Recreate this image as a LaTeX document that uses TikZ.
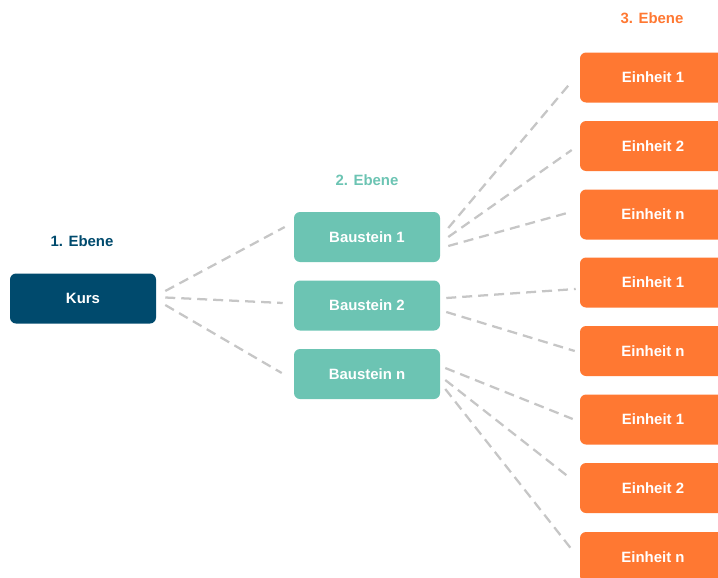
\documentclass[tikz,border=0pt]{standalone}
\usepackage{fontspec}
\setmainfont{Liberation Sans}
\usetikzlibrary{arrows,shapes}

\definecolor{kursblau}{HTML}{004A6D}
\definecolor{bausteingruen}{HTML}{6CC4B3}
\definecolor{einheitorange}{HTML}{FF7832}
\definecolor{linie}{HTML}{C6C6C6}

\begin{document}
\begin{tikzpicture}[x=0.75pt,y=-0.75pt,
                box/.style={rounded corners=4.5pt,minimum width=109.5pt,minimum height=37.5pt,
                    text=white,font=\fontsize{11.2}{13}\selectfont\bfseries,inner sep=0pt},
                kurs/.style={box,fill=kursblau},
                baustein/.style={box,fill=bausteingruen},
                einheit/.style={box,fill=einheitorange},
                ebene/.style={font=\fontsize{11.2}{13}\selectfont\bfseries},
                link/.style={draw=linie,line width=1.7pt,dash pattern=on 7.5pt off 4.5pt}]
                \useasboundingbox (0,0) rectangle (718,578);
                % Ueberschriften
                \node[ebene,text=kursblau](L1)at(82, 241){1. Ebene};
                \node[ebene,text=bausteingruen](L2)at(367, 180){2. Ebene};
                \node[ebene,text=einheitorange](L3)at(652, 18){3. Ebene};
                % 1. Ebene
                \node[kurs](K)at(83, 298.5){Kurs};
                % 2. Ebene
                \node[baustein](B1)at(367, 237){Baustein 1};
                \node[baustein](B2)at(367, 305.5){Baustein 2};
                \node[baustein](Bn)at(367, 374){Baustein n};
                % 3. Ebene
                \node[einheit](E1)at(653, 77.5){Einheit 1};
                \node[einheit](E2)at(653, 146){Einheit 2};
                \node[einheit](E3)at(653, 214.5){Einheit n};
                \node[einheit](E4)at(653, 282.5){Einheit 1};
                \node[einheit](E5)at(653, 351){Einheit n};
                \node[einheit](E6)at(653, 419.5){Einheit 1};
                \node[einheit](E7)at(653, 488){Einheit 2};
                \node[einheit](E8)at(653, 557){Einheit n};
                \path[link]([shift={(9,-7.5)}]K.east) edge ([shift={(-9,-10)}]B1.west)
                ([shift={(9,-1)}]K.east) edge ([shift={(-11,-2.5)}]B2.west)
                ([shift={(9,6.5)}]K.east) edge ([shift={(-12,-1)}]Bn.west)
                ([shift={(8,-9)}]B1.east) edge ([shift={(-8,4)}]E1.west)
                ([shift={(8,0)}]B1.east) edge ([shift={(-8,4)}]E2.west)
                ([shift={(8,9)}]B1.east) edge ([shift={(-9,-2.5)}]E3.west)
                ([shift={(6,-7.5)}]B2.east) edge ([shift={(-4,6.5)}]E4.west)
                ([shift={(6,6.5)}]B2.east) edge ([shift={(-5,0)}]E5.west)
                ([shift={(5,-6)}]Bn.east) edge ([shift={(-7,-0.5)}]E6.west)
                ([shift={(5,6)}]Bn.east) edge ([shift={(-11,-11)}]E7.west)
                ([shift={(5,15)}]Bn.east) edge ([shift={(-6,-5)}]E8.west);
            \end{tikzpicture}
\end{document}
